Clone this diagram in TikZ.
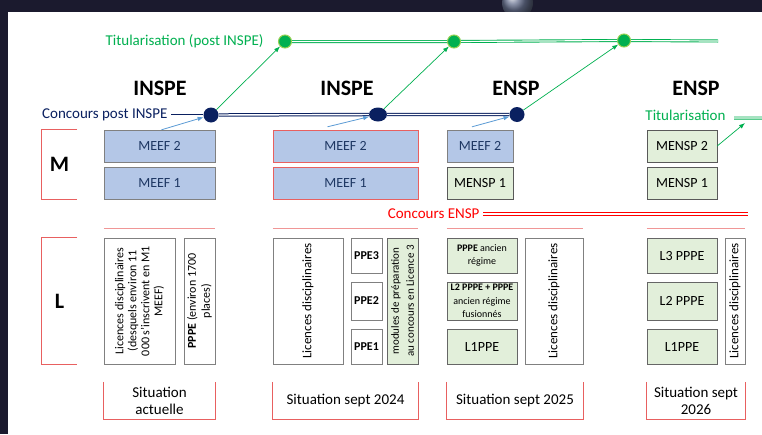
\documentclass[tikz,border=0pt]{standalone}
\usepackage{fontspec}
\setmainfont{Carlito}
\usepackage{xcolor}
\usepackage{tikz}
\usetikzlibrary{calc, arrows.meta, positioning, shapes}

\definecolor{meefblue}{RGB}{180,199,231}
\definecolor{ensgreen}{RGB}{226,239,218}
\definecolor{navy}{RGB}{10,32,96}
\definecolor{textnavy}{RGB}{31,56,100}
\definecolor{titgreen}{RGB}{0,176,80}
\definecolor{lightgreen}{RGB}{146,208,80}
\definecolor{arrowblue}{RGB}{91,155,213}
\definecolor{boxred}{RGB}{232,96,96}
\definecolor{pinkline}{RGB}{240,150,150}
\definecolor{framedark}{RGB}{27,26,46}
\definecolor{boxgray}{RGB}{128,128,128}
\definecolor{ballc}{RGB}{105,115,145}

\newcommand{\fsz}[2]{\fontsize{#1}{#2}\selectfont}

\begin{document}
\begin{tikzpicture}[x=10pt, y=10pt, >={Latex[length=6pt,width=4.5pt]}]
	\tikzstyle{meef} = [draw=boxgray, fill=meefblue, text=textnavy, rectangle, minimum height=32pt, inner sep=0pt, font=\fsz{14}{16}]
	\tikzstyle{meefred} = [meef, draw=boxred]
	\tikzstyle{mensp} = [draw=black!65, fill=ensgreen, rectangle, minimum height=32pt, inner sep=0pt, font=\fsz{14}{16}]
	\tikzstyle{lbox} = [draw=boxgray, fill=white, rectangle, inner sep=0pt, align=center]
	\tikzstyle{gbox} = [lbox, draw=black!60, fill=ensgreen]
	\tikzstyle{vert} = [rotate=90, minimum width=126pt]
	\tikzstyle{head} = [font=\bfseries\fsz{22}{24}]
	\tikzstyle{side} = [rectangle, minimum width=35pt, font=\bfseries\fsz{22}{24}]
	\tikzstyle{sit} = [rectangle, minimum height=37pt, align=center, font=\fsz{15}{17}]
	\tikzstyle{dot} = [circle, fill=navy, inner sep=0pt, minimum size=15pt]
	\tikzstyle{gdot} = [circle, fill=titgreen, draw=lightgreen, line width=1pt, inner sep=0pt, minimum size=13pt]
	\tikzstyle{navyline} = [draw=navy, double=white, line width=1pt, double distance=1.4pt]
	\tikzstyle{gline} = [draw=titgreen, double=white, line width=0.9pt, double distance=1.2pt]
	\tikzstyle{rline} = [draw=red, double=white, line width=1.3pt, double distance=1.5pt]
	\tikzstyle{barrow} = [arrowblue, line width=0.8pt, ->]
	\tikzstyle{garrow} = [titgreen, line width=0.7pt, ->]
	\tikzstyle{pinkl} = [pinkline, line width=1.2pt]
	\tikzstyle{edge} = [boxred, line width=0.9pt]

	% screen frame
	\useasboundingbox (0,0) rectangle (76.2,-43.4);
	\fill[framedark] (0,0) rectangle (76.2,-43.4);
	\begin{scope}
		\clip (0,0) rectangle (76.2,-1.2);
		\shade[ball color=ballc] (51.75,-0.3) circle (1.55);
	\end{scope}
	\fill[white] (0.8,-1.2) rectangle (76.2,-43.4);

	% headers
	\node[head] at (16.0, -8.8) (h1) {INSPE};
	\node[head] at (34.7, -8.8) (h2) {INSPE};
	\node[head] at (51.6, -8.8) (h3) {ENSP};
	\node[head] at (69.6, -8.8) (h4) {ENSP};

	\node[side, minimum height=69pt] at (5.95, -16.45) (mlab) {M};
	\node[side, minimum height=126pt] at (5.95, -30.1) (llab) {L};

	% situation actuelle
	\node[meef, minimum width=111pt] at (15.95, -14.6) (m2a) {MEEF 2};
	\node[meef, minimum width=111pt] at (15.95, -18.3) (m1a) {MEEF 1};
	\node[lbox, vert, minimum height=71pt, font=\fsz{12}{13}] at (13.95, -30.1) (lica)
		{Licences disciplinaires\\(desquels environ 11\\000 s'inscrivent en M1\\MEEF)};
	\node[lbox, vert, minimum height=31pt, font=\fsz{12}{14}] at (19.95, -30.1) (pppea)
		{\textbf{PPPE} (environ 1700\\places)};
	\node[sit, minimum width=111pt] at (15.95, -40.05) (sita) {Situation\\actuelle};

	% sept 2024
	\node[meefred, minimum width=145pt] at (34.55, -14.6) (m2b) {MEEF 2};
	\node[meefred, minimum width=145pt] at (34.55, -18.3) (m1b) {MEEF 1};
	\node[lbox, vert, minimum height=70pt, font=\fsz{13}{15}] at (30.8, -30.1) (licb) {Licences disciplinaires};
	\node[lbox, minimum width=31pt, minimum height=35pt, font=\bfseries\fsz{12}{14}] at (36.65, -25.55) (ppe3) {PPE3};
	\node[lbox, minimum width=31pt, minimum height=38pt, font=\bfseries\fsz{12}{14}] at (36.65, -30.1) (ppe2) {PPE2};
	\node[lbox, minimum width=31pt, minimum height=35pt, font=\bfseries\fsz{12}{14}] at (36.65, -34.65) (ppe1) {PPE1};
	\node[gbox, vert, minimum height=31pt, font=\fsz{11}{15}] at (40.25, -30.1) (modb)
		{modules de préparation\\au concours en Licence 3};
	\node[sit, minimum width=145pt] at (34.55, -40.05) (sitb) {Situation sept 2024};

	% sept 2025
	\node[meef, minimum width=66pt] at (48.0, -14.6) (m2c) {MEEF 2};
	\node[mensp, minimum width=66pt] at (48.0, -18.3) (m1c) {MENSP 1};
	\node[gbox, minimum width=70pt, minimum height=35pt, font=\fsz{10}{13.5}] at (48.2, -25.55) (pppec)
		{\textbf{PPPE} ancien\\régime};
	\node[gbox, minimum width=70pt, minimum height=38pt, font=\fsz{10}{13.5}] at (48.2, -30.1) (l2c)
		{\textbf{L2 PPPE + PPPE}\\ancien régime\\fusionnés};
	\node[gbox, minimum width=70pt, minimum height=35pt, font=\fsz{14}{16}] at (48.2, -34.65) (l1c) {L1PPE};
	\node[lbox, vert, minimum height=58pt, font=\fsz{13}{15}] at (55.4, -30.1) (licc) {Licences disciplinaires};
	\node[sit, minimum width=136pt] at (51.5, -40.05) (sitc) {Situation sept 2025};

	% sept 2026
	\node[mensp, minimum width=70pt] at (68.2, -14.6) (m2d) {MENSP 2};
	\node[mensp, minimum width=70pt] at (68.2, -18.3) (m1d) {MENSP 1};
	\node[gbox, minimum width=70pt, minimum height=35pt, font=\fsz{14}{16}] at (68.2, -25.55) (l3d) {L3 PPPE};
	\node[gbox, minimum width=70pt, minimum height=38pt, font=\fsz{14}{16}] at (68.2, -30.1) (l2d) {L2 PPPE};
	\node[gbox, minimum width=70pt, minimum height=35pt, font=\fsz{14}{16}] at (68.2, -34.65) (l1d) {L1PPE};
	\node[lbox, vert, minimum height=20pt, font=\fsz{13}{15}] at (73.5, -30.1) (licd) {Licences disciplinaires};
	\node[sit, minimum width=98pt] at (69.6, -40.05) (sitd) {Situation sept\\2026};

	% brackets and lines
	\foreach \s in {mlab, llab}
		\draw[edge] (\s.north east) -- (\s.north west) -- (\s.south west) -- (\s.south east);
	\foreach \s in {sita, sitb, sitc, sitd} {
		\draw[edge] (\s.north west) -- (\s.south west) -- (\s.south east) -- (\s.north east);
		\draw[pinkl] ($(\s.west |- ppe3.north)+(0,0.9)$) -- ($(\s.east |- ppe3.north)+(0,0.9)$);
	}

	% concours
	\node[anchor=east, text=navy, font=\fsz{15}{17}] at (17.1, -11.5) (cpi) {Concours post INSPE};
	\node[dot] at (21.1, -11.5) (d1) {};
	\node[dot, ellipse, minimum width=18pt, minimum height=14pt] at (37.8, -11.45) (d2) {};
	\node[dot] at (51.7, -11.45) (d3) {};
	\node[anchor=east, text=red, font=\fsz{15}{17}] at (48.3, -21.4) (cen) {Concours ENSP};
	\coordinate (rend) at (74.8, -21.4);

	% titularisation
	\node[anchor=east, text=titgreen, font=\fsz{15}{17}] at (26.7, -4.1) (tpi) {Titularisation (post INSPE)};
	\node[gdot] at (28.5, -4.15) (g1) {};
	\node[gdot] at (45.4, -4.15) (g2) {};
	\node[gdot] at (62.4, -4.05) (g3) {};
	\coordinate (gend) at (71.8, -4.1);
	\node[anchor=east, text=titgreen, font=\fsz{15}{17}] at (72.9, -11.5) (t4) {Titularisation};
	\coordinate (t4end) at (76.2, -11.8);
	\coordinate (a4) at (74.5, -12.3);

	\draw[navyline, line width=0.7pt, double distance=1pt] (cpi) -- (d1);
	\draw[navyline] (d1) -- (d2) -- (d3);
	\draw[gline] (g1) -- (g2) -- (g3) -- (gend);
	\draw[rline] (cen) -- (rend);
	\draw[gline, shorten <=5pt] ([yshift=-3pt]t4.east) -- (t4end);

	\draw[barrow] ([xshift=2pt]m2a.north) -- (d1);
	\draw[barrow] ([xshift=-18pt,yshift=3pt]m2b.north) -- (d2);
	\draw[barrow] ([xshift=-8pt,yshift=3pt]m2c.north) -- (d3);
	\draw[garrow] (d1) -- (g1);
	\draw[garrow] (d2) -- (g2);
	\draw[garrow] (d3) -- (g3);
	\draw[garrow] (m2d.east) -- (a4);
\end{tikzpicture}
\end{document}
